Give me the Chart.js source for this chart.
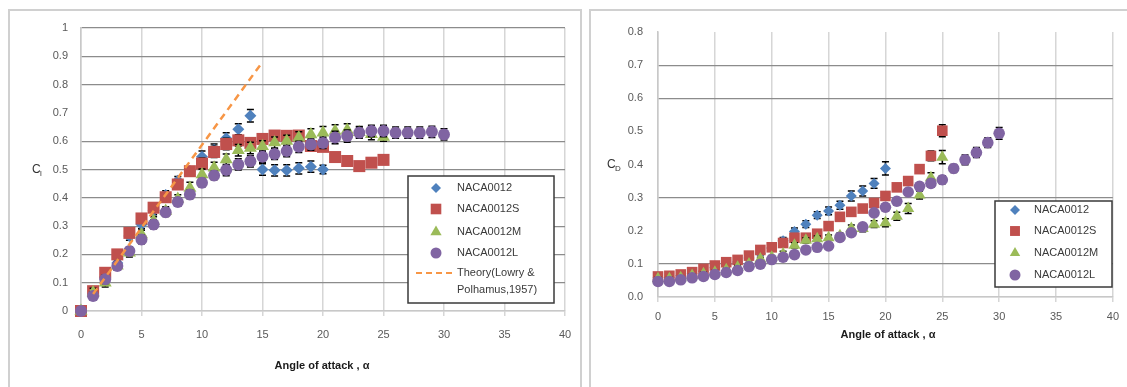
<!DOCTYPE html>
<html>
<head>
<meta charset="utf-8">
<script src="https://cdn.jsdelivr.net/npm/chart.js@4.4.1/dist/chart.umd.min.js"></script>
<style>
  body { margin: 0; background: #fff; width: 1127px; height: 387px; overflow: hidden; position: relative; }
  .frame { position: absolute; border: 2px solid #d0d0d0; }
  canvas { position: absolute; top: 0; }
</style>
</head>
<body>
<div class="frame" style="left:8px;top:9px;width:570px;height:400px"></div>
<div class="frame" style="left:589px;top:9px;width:560px;height:400px"></div>
<canvas id="liftChart" width="590" height="387" style="left:0"></canvas>
<canvas id="dragChart" width="537" height="387" style="left:590px"></canvas>
<script>
// angle of attack (deg)
const alpha20 = [0,1,2,3,4,5,6,7,8,9,10,11,12,13,14,15,16,17,18,19,20];
const alpha25 = [0,1,2,3,4,5,6,7,8,9,10,11,12,13,14,15,16,17,18,19,20,21,22,23,24,25];
const alpha30 = [0,1,2,3,4,5,6,7,8,9,10,11,12,13,14,15,16,17,18,19,20,21,22,23,24,25,26,27,28,29,30];
const alphaTheory = [1, 15];

const seriesNames = ['NACA0012', 'NACA0012S', 'NACA0012M', 'NACA0012L'];

// lift coefficient
const cl0012  = [0, 0.06, 0.12, 0.17, 0.265, 0.306, 0.355, 0.41, 0.46, 0.495, 0.545, 0.57, 0.61, 0.642, 0.69, 0.50, 0.497, 0.497, 0.504, 0.51, 0.50];
const cl0012S = [0, 0.07, 0.135, 0.2, 0.276, 0.327, 0.365, 0.402, 0.447, 0.494, 0.521, 0.562, 0.59, 0.603, 0.594, 0.608, 0.62, 0.619, 0.62, 0.583, 0.58, 0.544, 0.53, 0.512, 0.524, 0.534];
const cl0012M = [0, 0.065, 0.10, 0.16, 0.206, 0.27, 0.318, 0.353, 0.396, 0.435, 0.482, 0.506, 0.535, 0.568, 0.576, 0.582, 0.595, 0.601, 0.613, 0.624, 0.63, 0.636, 0.64, 0.632, 0.625, 0.615];
const cl0012L = [0, 0.053, 0.112, 0.159, 0.212, 0.253, 0.306, 0.349, 0.385, 0.412, 0.453, 0.479, 0.498, 0.518, 0.529, 0.545, 0.555, 0.565, 0.58, 0.588, 0.594, 0.613, 0.618, 0.63, 0.636, 0.636, 0.63, 0.63, 0.63, 0.633, 0.624];
const clTheory = [0.06, 0.88];

// error bars on lift
const clErr0012  = [0, 0.015, 0.015, 0.015, 0.015, 0.015, 0.015, 0.015, 0.015, 0.015, 0.02, 0.02, 0.02, 0.02, 0.022, 0.02, 0.02, 0.02, 0.02, 0.02, 0.015];
const clErr0012S = [0, 0.015, 0.015, 0.015, 0.015, 0.015, 0.015, 0.015, 0.015, 0.015, 0.02, 0.02, 0.02, 0.02, 0.015, 0.015, 0.015, 0.015, 0.015, 0.015, 0.015, 0.01, 0.01, 0.01, 0.01, 0.01];
const clErr0012M = [0, 0.015, 0.015, 0.015, 0.015, 0.015, 0.015, 0.015, 0.015, 0.02, 0.02, 0.02, 0.02, 0.02, 0.02, 0.02, 0.02, 0.02, 0.02, 0.02, 0.022, 0.022, 0.022, 0.02, 0.02, 0.015];
const clErr0012L = [0, 0.015, 0.015, 0.015, 0.015, 0.015, 0.015, 0.015, 0.015, 0.015, 0.015, 0.015, 0.02, 0.02, 0.02, 0.02, 0.02, 0.02, 0.02, 0.02, 0.02, 0.022, 0.022, 0.02, 0.02, 0.02, 0.02, 0.02, 0.02, 0.02, 0.02];

// drag coefficient
const cd0012  = [0.058, 0.06, 0.064, 0.07, 0.078, 0.088, 0.098, 0.106, 0.118, 0.132, 0.148, 0.17, 0.198, 0.22, 0.247, 0.26, 0.277, 0.305, 0.32, 0.343, 0.388];
const cd0012S = [0.062, 0.064, 0.068, 0.075, 0.085, 0.095, 0.105, 0.112, 0.125, 0.142, 0.15, 0.163, 0.179, 0.179, 0.191, 0.214, 0.242, 0.257, 0.267, 0.284, 0.305, 0.331, 0.35, 0.386, 0.426, 0.502];
const cd0012M = [0.055, 0.055, 0.058, 0.065, 0.07, 0.075, 0.082, 0.09, 0.1, 0.115, 0.12, 0.13, 0.156, 0.171, 0.176, 0.179, 0.185, 0.207, 0.207, 0.22, 0.224, 0.244, 0.267, 0.308, 0.36, 0.422];
const cd0012L = [0.047, 0.047, 0.052, 0.058, 0.062, 0.068, 0.074, 0.08, 0.092, 0.099, 0.113, 0.12, 0.128, 0.142, 0.15, 0.154, 0.18, 0.194, 0.212, 0.254, 0.271, 0.289, 0.317, 0.334, 0.343, 0.354, 0.388, 0.414, 0.436, 0.466, 0.494];

const cdErr0012  = [0.004, 0.004, 0.004, 0.004, 0.005, 0.005, 0.005, 0.005, 0.005, 0.005, 0.008, 0.01, 0.01, 0.01, 0.01, 0.012, 0.012, 0.015, 0.015, 0.015, 0.02];
const cdErr0012S = [0.004, 0.004, 0.004, 0.004, 0.005, 0.005, 0.005, 0.005, 0.005, 0.005, 0.005, 0.008, 0.008, 0.008, 0.008, 0.008, 0.008, 0.008, 0.008, 0.008, 0.01, 0.01, 0.012, 0.012, 0.015, 0.018];
const cdErr0012M = [0.004, 0.004, 0.004, 0.004, 0.005, 0.005, 0.005, 0.005, 0.005, 0.005, 0.005, 0.008, 0.008, 0.008, 0.008, 0.008, 0.008, 0.01, 0.01, 0.01, 0.012, 0.012, 0.015, 0.012, 0.015, 0.02];
const cdErr0012L = [0.004, 0.004, 0.004, 0.004, 0.005, 0.005, 0.005, 0.005, 0.005, 0.005, 0.005, 0.008, 0.008, 0.008, 0.008, 0.008, 0.008, 0.008, 0.008, 0.008, 0.01, 0.01, 0.01, 0.01, 0.012, 0.012, 0.012, 0.015, 0.015, 0.015, 0.018];

const colors = ['#4F81BD', '#C0504D', '#9BBB59', '#8064A2'];
const theoryColor = '#F79646';
const markers = ['rectRot', 'rect', 'triangle', 'circle'];

Chart.defaults.font.family = "'Liberation Sans', Arial, sans-serif";
Chart.defaults.font.size = 11;
Chart.defaults.color = '#595959';

function pts(xs, ys) {
  return ys.map((y, i) => ({ x: xs[i], y: y }));
}

function seriesSet(xsList, ysList, errList, radii) {
  return ysList.map((ys, i) => ({
    label: seriesNames[i],
    data: pts(xsList[i], ys),
    errorBars: errList[i],
    showLine: false,
    clip: false,
    pointStyle: markers[i],
    pointRadius: radii[i],
    pointHoverRadius: radii[i],
    backgroundColor: colors[i],
    borderColor: colors[i],
    borderWidth: 0,
    order: 4 - i
  }));
}

// error bars + axis titles + legend box
const decor = {
  id: 'decor',
  beforeDatasetDraw(chart, args) {
    const ds = chart.data.datasets[args.index];
    if (!ds.errorBars) return;
    const ys = chart.scales.y;
    const ctx = chart.ctx;
    ctx.save();
    ctx.strokeStyle = '#000';
    ctx.lineWidth = 1.5;
    args.meta.data.forEach((el, i) => {
      const e = ds.errorBars[i];
      if (!e) return;
      const v = ds.data[i].y;
      const top = ys.getPixelForValue(v + e);
      const bot = ys.getPixelForValue(v - e);
      ctx.beginPath();
      ctx.moveTo(el.x, top); ctx.lineTo(el.x, bot);
      ctx.moveTo(el.x - 3.5, top); ctx.lineTo(el.x + 3.5, top);
      ctx.moveTo(el.x - 3.5, bot); ctx.lineTo(el.x + 3.5, bot);
      ctx.stroke();
    });
    ctx.restore();
  },
  afterDraw(chart, args, o) {
    const ctx = chart.ctx;
    ctx.save();
    // x title
    ctx.fillStyle = '#1a1a1a';
    ctx.font = "bold 11px 'Liberation Sans', Arial, sans-serif";
    ctx.textAlign = 'center';
    ctx.textBaseline = 'middle';
    ctx.fillText('Angle of attack , \u03B1', o.xTitle[0], o.xTitle[1]);
    // y title with subscript
    ctx.font = "12px 'Liberation Sans', Arial, sans-serif";
    ctx.fillStyle = '#333';
    ctx.textAlign = 'left';
    ctx.fillText('C', o.yTitle[0], o.yTitle[1]);
    ctx.font = "8px 'Liberation Sans', Arial, sans-serif";
    ctx.fillText(o.yTitle[2], o.yTitle[0] + 8, o.yTitle[1] + 4);

    // legend
    const b = o.legend.box;
    ctx.fillStyle = '#fff';
    ctx.fillRect(b[0], b[1], b[2], b[3]);
    ctx.strokeStyle = '#3a3a3a';
    ctx.lineWidth = 1.5;
    ctx.strokeRect(b[0], b[1], b[2], b[3]);
    ctx.font = "11px 'Liberation Sans', Arial, sans-serif";
    ctx.textBaseline = 'middle';
    o.legend.rows.forEach((rowY, i) => {
      ctx.fillStyle = colors[i];
      Chart.helpers.drawPoint(ctx, { pointStyle: markers[i], radius: o.legend.radius[i], borderWidth: 0 }, o.legend.markerX, rowY);
      ctx.fillStyle = '#3a3a3a';
      ctx.fillText(seriesNames[i], o.legend.textX, rowY);
    });
    if (o.legend.theory) {
      const t = o.legend.theory;
      ctx.strokeStyle = theoryColor;
      ctx.lineWidth = 2;
      ctx.setLineDash([6, 4]);
      ctx.beginPath();
      ctx.moveTo(t.x0, t.y); ctx.lineTo(t.x1, t.y);
      ctx.stroke();
      ctx.setLineDash([]);
      ctx.fillStyle = '#3a3a3a';
      ctx.fillText('Theory(Lowry &', o.legend.textX, t.y);
      ctx.fillText('Polhamus,1957)', o.legend.textX, t.y + 17);
    }
    ctx.restore();
  }
};

function axes(yMax, yPad, xPad, yWidth, xHeight, yFmt, hiddenGrid) {
  return {
    x: {
      type: 'linear', min: 0, max: 40,
      ticks: { stepSize: 5, padding: xPad },
      grid: { color: '#d6d6d6', lineWidth: 1.5, drawTicks: true, tickLength: 5 },
      border: { color: '#c8c8c8', width: 1.5 },
      afterFit(s) { s.height = xHeight; }
    },
    y: {
      type: 'linear', min: 0, max: yMax,
      ticks: { stepSize: 0.1, padding: yPad, callback: yFmt },
      grid: {
        drawTicks: false,
        lineWidth: 1.2,
        color: c => {
          const v = Math.round(c.tick.value * 10);
          if (v === 0) return '#c8c8c8';
          return hiddenGrid.includes(v) ? 'rgba(0,0,0,0)' : '#8c8c8c';
        }
      },
      border: { color: '#c8c8c8', width: 1.5 },
      afterFit(s) { s.width = yWidth; }
    }
  };
}

new Chart(document.getElementById('liftChart'), {
  type: 'scatter',
  data: {
    datasets: seriesSet([alpha20, alpha25, alpha25, alpha30],
      [cl0012, cl0012S, cl0012M, cl0012L],
      [clErr0012, clErr0012S, clErr0012M, clErr0012L],
      [6, 8.5, 7.5, 6]).concat([{
        label: 'Theory(Lowry & Polhamus,1957)',
        data: pts(alphaTheory, clTheory),
        showLine: true,
        borderColor: theoryColor,
        borderWidth: 2.5,
        borderDash: [7, 5],
        pointRadius: 0,
        order: 0
      }])
  },
  options: {
    responsive: false,
    animation: false,
    layout: { padding: { top: 28, right: 25, left: 0, bottom: 0 } },
    plugins: {
      legend: { display: false },
      tooltip: { enabled: false },
      decor: {
        xTitle: [322, 366],
        yTitle: [32, 170, 'l'],
        legend: {
          box: [408, 176, 146, 127],
          markerX: 436, textX: 457,
          rows: [188, 209, 232, 253],
          radius: [5, 7.5, 6.5, 5.5],
          theory: { x0: 416, x1: 452, y: 273 }
        }
      }
    },
    scales: axes(1, 13, 12, 81, 76, v => String(Number(v.toFixed(1))), [7])
  },
  plugins: [decor]
});

new Chart(document.getElementById('dragChart'), {
  type: 'scatter',
  data: {
    datasets: seriesSet([alpha20, alpha25, alpha25, alpha30],
      [cd0012, cd0012S, cd0012M, cd0012L],
      [cdErr0012, cdErr0012S, cdErr0012M, cdErr0012L],
      [5.5, 7.5, 7, 5.8])
  },
  options: {
    responsive: false,
    animation: false,
    layout: { padding: { top: 32, right: 9, left: 0, bottom: 0 } },
    plugins: {
      legend: { display: false },
      tooltip: { enabled: false },
      decor: {
        xTitle: [298, 335],
        yTitle: [17, 165, 'D'],
        legend: {
          box: [405, 201, 117, 86],
          markerX: 425, textX: 444,
          rows: [210, 231, 253, 275],
          radius: [5, 7, 6, 5.5]
        }
      }
    },
    scales: axes(0.8, 15, 8, 68, 90, v => v.toFixed(1), [2, 4, 5, 8])
  },
  plugins: [decor]
});
</script>
</body>
</html>
